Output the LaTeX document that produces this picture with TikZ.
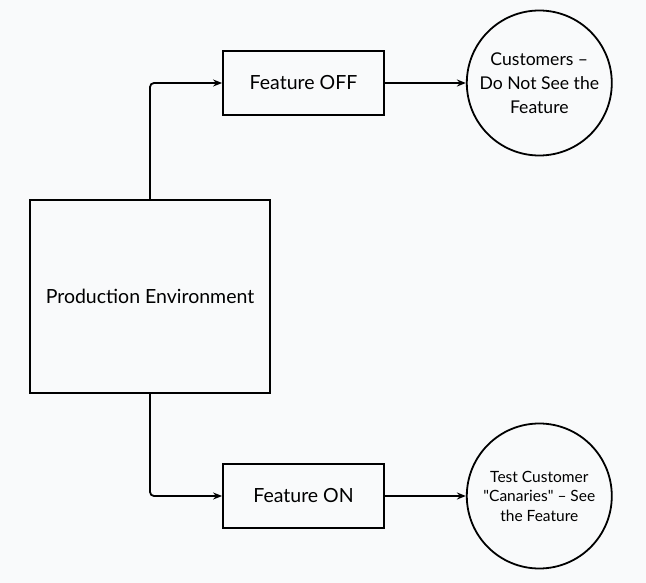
\documentclass[tikz,border=0pt]{standalone}
\usepackage{fontspec}
\setmainfont{Lato}
\usepackage{xcolor}
\usetikzlibrary{positioning}
\usetikzlibrary{arrows.meta}

\definecolor{bgpaper}{HTML}{F9FAFB}

\tikzset{
  box/.style={draw, line width=1.8pt, inner sep=0pt, font=\fontsize{19.5}{24}\selectfont},
  endcirc/.style={draw, circle, line width=1.8pt, inner sep=0pt, minimum size=145pt, align=center},
  flow/.style={line width=1.8pt, -{Stealth[length=9pt,width=7pt]}, rounded corners=4pt}
}

\begin{document}
\begin{tikzpicture}[x=1pt, y=-1pt]
\fill[bgpaper] (0,0) rectangle (646,583);
\useasboundingbox (0,0) rectangle (646,583);

%% boxes
\node[box, minimum width=240pt, minimum height=193pt] (prod) at (150,296.5) {Production Environment};

\node[box, minimum width=161pt, minimum height=64pt] (off) at (303.5,83) {Feature OFF};
\node[box, minimum width=161pt, minimum height=64pt] (on) at (303.5,496) {Feature ON};

%% customers
\node[endcirc, right=81pt of off, font=\fontsize{17.6}{24}\selectfont] (cust)
  {Customers --\\Do Not See the\\Feature};
\node[endcirc, right=81pt of on, font=\fontsize{15.5}{19.5}\selectfont] (canary)
  {Test Customer\\\textquotedbl Canaries\textquotedbl{} -- See\\the Feature};

\draw[flow] (prod.north) |- (off.west);
\draw[flow] (prod.south) |- (on.west);

\draw[flow] (off) -- (cust);
\draw[flow] (on) -- (canary);

\end{tikzpicture}
\end{document}
